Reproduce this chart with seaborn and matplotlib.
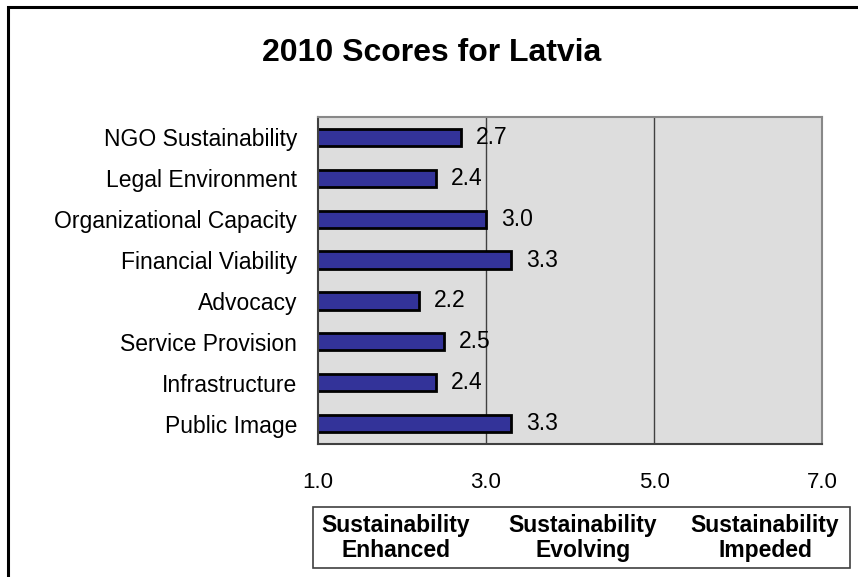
import matplotlib
matplotlib.use("Agg")
import matplotlib.pyplot as plt
import seaborn as sns
import pandas as pd
from matplotlib.patches import Rectangle

categories = ["NGO Sustainability", "Legal Environment", "Organizational Capacity",
              "Financial Viability", "Advocacy", "Service Provision",
              "Infrastructure", "Public Image"]
scores = [2.7, 2.4, 3.0, 3.3, 2.2, 2.5, 2.4, 3.3]
x_ticks = [1.0, 3.0, 5.0, 7.0]
zone_labels = ["Sustainability\nEnhanced", "Sustainability\nEvolving", "Sustainability\nImpeded"]
title = "2010 Scores for Latvia"

sns.set_theme(style="white")
plt.rcParams['font.family'] = ['Liberation Sans', 'DejaVu Sans']
plt.rcParams['text.color'] = 'black'

df = pd.DataFrame({"category": categories, "score": scores})

W, H = 858, 577
fig = plt.figure(figsize=(W / 100, H / 100), dpi=100)
ax = fig.add_axes([318 / W, 1 - 444 / H, (822 - 318) / W, (444 - 117) / H])
ax.set_facecolor("#DDDDDD")

sns.barplot(data=df, x="score", y="category", orient="h", ax=ax,
            color="#333399", edgecolor="black", linewidth=2, width=0.42,
            saturation=1)

ax.set_xlim(1, 7)
ax.set_ylim(len(categories) - 0.5, -0.5)
ax.set_xticks(x_ticks)
ax.set_xticklabels([f"{v:.1f}" for v in x_ticks], fontsize=16, color="black")
ax.tick_params(axis="x", direction="out", length=4, width=1, color="#404040", pad=16)
ax.tick_params(axis="y", which="major", length=0, labelsize=16.5, pad=15, labelcolor="black")
ax.set_yticks([i - 0.5 for i in range(len(categories) + 1)], minor=True)
ax.tick_params(axis="y", which="minor", direction="out", length=4, width=1, color="#404040")
ax.set_xlabel("")
ax.set_ylabel("")

for xv in [3, 5]:
    ax.axvline(xv, color="#404040", lw=1, zorder=0.5)

for sp in ["top", "right"]:
    ax.spines[sp].set_color("#888888")
    ax.spines[sp].set_linewidth(1.5)
for sp in ["left", "bottom"]:
    ax.spines[sp].set_color("#404040")
    ax.spines[sp].set_linewidth(1.5)

for i, v in enumerate(scores):
    ax.text(v + 0.18, i, f"{v:.1f}", va="center", ha="left", fontsize=16.5, color="black")

# outer border (left and top visible; right and bottom run off the image)
fig.patches.append(Rectangle((8 / W, -0.05), 1.0, 1 - 7 / H + 0.05,
                             transform=fig.transFigure, fill=False,
                             edgecolor="black", linewidth=2.2))

fig.text(432 / W, 1 - 53 / H, title, ha="center", va="center",
         fontsize=23, fontweight="bold", color="black")

# zone box
fig.patches.append(Rectangle((313 / W, 1 - 568 / H), (850 - 313) / W, (568 - 507) / H,
                             transform=fig.transFigure, fill=False,
                             edgecolor="#404040", linewidth=1.2))
for cx, lab in zip([396, 583, 765], zone_labels):
    fig.text(cx / W, 1 - 538 / H, lab, ha="center", va="center",
             fontsize=16.5, fontweight="bold", linespacing=1.12, color="black")

fig.savefig("out.png", dpi=100)
